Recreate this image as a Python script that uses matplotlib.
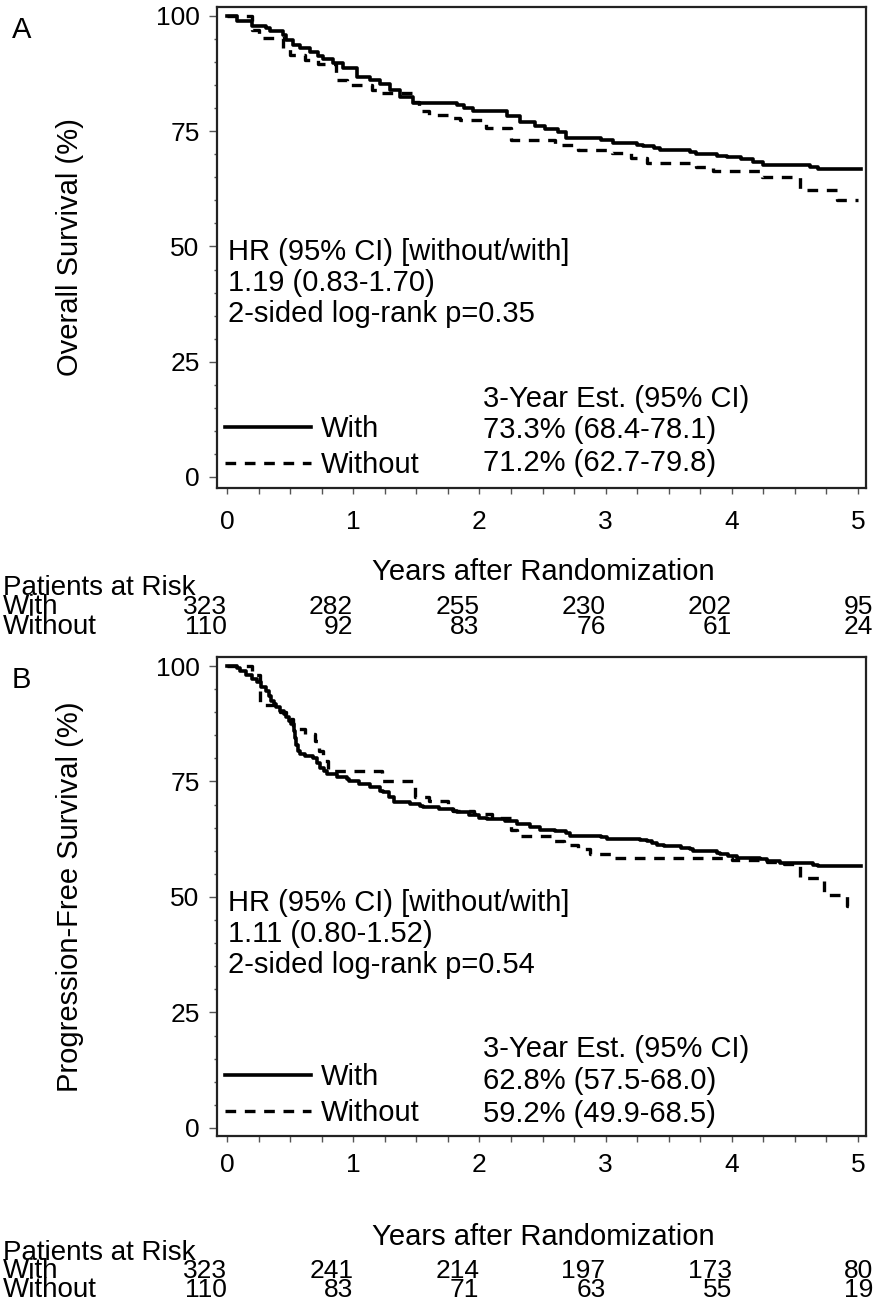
import matplotlib
matplotlib.use("Agg")
import matplotlib.pyplot as plt
from matplotlib.ticker import MultipleLocator
from matplotlib.transforms import blended_transform_factory

plt.rcParams['font.family'] = ['Liberation Sans', 'DejaVu Sans']

# ---------------- data ----------------
years = [0, 1, 2, 3, 4, 5]
yticks = [0, 25, 50, 75, 100]

os_with_t = [0, 0.08, 0.20, 0.31, 0.34, 0.44, 0.47, 0.52, 0.58, 0.66, 0.72, 0.76, 0.84, 0.92, 1.03,
             1.13, 1.21, 1.29, 1.37, 1.47, 1.82, 1.88, 1.95, 2.22, 2.32, 2.44, 2.52, 2.62, 2.69, 2.96,
             3.06, 3.25, 3.30, 3.38, 3.43, 3.67, 3.72, 3.88, 3.96, 4.07, 4.17, 4.25, 4.62, 4.68, 5.02]
os_with_s = [100, 99.0, 97.9, 97.4, 96.7, 95.8, 94.8, 93.8, 93.0, 92.2, 91.4, 90.6, 89.8, 88.7, 86.8,
             86.2, 85.3, 84.0, 82.4, 81.1, 80.6, 80.1, 79.3, 78.4, 77.1, 76.2, 75.4, 74.8, 73.5, 73.1,
             72.5, 72.1, 71.7, 71.3, 70.9, 70.5, 70.1, 69.7, 69.3, 69.0, 68.4, 67.7, 67.3, 66.8, 66.8]

os_wo_t = [0, 0.20, 0.25, 0.44, 0.50, 0.62, 0.72, 0.86, 0.95, 1.15, 1.20, 1.47, 1.52, 1.60, 1.75,
           1.85, 2.05, 2.25, 2.60, 2.78, 3.05, 3.20, 3.33, 3.72, 3.85, 4.24, 4.54, 4.83, 5.00]
os_wo_s = [100, 97.0, 95.2, 92.8, 91.5, 90.5, 89.5, 86.1, 85.0, 84.0, 83.2, 81.4, 79.3, 78.5, 77.8,
           77.4, 75.6, 73.1, 72.0, 71.0, 70.2, 69.1, 68.2, 67.2, 66.4, 65.1, 62.3, 60.1, 60.1]

pfs_with_t = [0, 0.08, 0.10, 0.15, 0.20, 0.24, 0.27, 0.31, 0.33, 0.35, 0.37, 0.39, 0.42, 0.45, 0.47,
              0.49, 0.51, 0.53, 0.54, 0.55, 0.56, 0.58, 0.62, 0.68, 0.71, 0.74, 0.77, 0.79, 0.87, 0.95,
              0.97, 1.05, 1.13, 1.21, 1.24, 1.28, 1.32, 1.45, 1.53, 1.55, 1.68, 1.79, 1.82, 1.92, 2.00,
              2.06, 2.20, 2.30, 2.40, 2.48, 2.60, 2.69, 2.72, 2.96, 3.01, 3.27, 3.33, 3.37, 3.41, 3.46,
              3.60, 3.67, 3.69, 3.88, 3.91, 3.97, 4.04, 4.22, 4.28, 4.38, 4.41, 4.64, 4.68, 5.02]
pfs_with_s = [100, 99.6, 99.0, 98.0, 97.2, 96.5, 95.4, 94.6, 93.5, 92.5, 91.8, 91.1, 90.3, 89.6, 88.9,
              88.0, 87.4, 86.0, 84.5, 83.0, 81.6, 81.0, 80.5, 80.0, 79.0, 78.0, 77.2, 76.6, 76.0, 75.5,
              75.1, 74.5, 73.8, 73.0, 72.7, 71.6, 70.5, 70.1, 69.7, 69.4, 69.0, 68.6, 68.3, 67.8, 67.2,
              66.8, 66.5, 65.8, 65.2, 64.6, 64.2, 63.9, 63.2, 63.0, 62.6, 62.3, 62.1, 61.6, 61.2, 61.0,
              60.6, 60.3, 59.9, 59.6, 59.2, 58.9, 58.5, 58.3, 57.8, 57.4, 57.3, 57.0, 56.8, 56.8]

pfs_wo_t = [0, 0.20, 0.26, 0.42, 0.47, 0.52, 0.62, 0.70, 0.73, 0.76, 0.80, 1.23, 1.49, 1.60, 1.75,
            1.79, 1.96, 2.10, 2.25, 2.30, 2.57, 2.67, 2.78, 2.88, 3.04, 4.00, 4.28, 4.41, 4.54, 4.73,
            4.91, 4.97]
pfs_wo_s = [100, 98.0, 91.5, 90.0, 88.5, 86.3, 85.2, 83.7, 81.6, 79.4, 77.2, 75.1, 71.6, 70.7, 69.4,
            68.7, 67.9, 67.0, 64.5, 63.1, 62.1, 61.2, 60.3, 59.2, 58.4, 58.0, 57.6, 57.2, 54.1, 50.5,
            48.0, 48.0]

risk_os_with = [323, 282, 255, 230, 202, 95]
risk_os_wo = [110, 92, 83, 76, 61, 24]
risk_pfs_with = [323, 241, 214, 197, 173, 80]
risk_pfs_wo = [110, 83, 71, 63, 55, 19]

group_labels = ["With", "Without"]
est_header = "3-Year Est. (95% CI)"
os_est = ["73.3% (68.4-78.1)", "71.2% (62.7-79.8)"]
pfs_est = ["62.8% (57.5-68.0)", "59.2% (49.9-68.5)"]
os_hr = ["HR (95% CI) [without/with]", "1.19 (0.83-1.70)", "2-sided log-rank p=0.35"]
pfs_hr = ["HR (95% CI) [without/with]", "1.11 (0.80-1.52)", "2-sided log-rank p=0.54"]

# ---------------- figure ----------------
W, H = 876, 1300
fig = plt.figure(figsize=(W / 100, H / 100), dpi=100)

TXT = 21
TICK = 19
RISK = 20
NUM = 19


def fy(py):
    return 1 - py / H


def make_panel(rect, tw, sw, two, swo, ylabel, hr, est, ylim, xpad):
    ax = fig.add_axes(rect)
    l1, = ax.step(tw, sw, where='post', color='black', lw=2.6, label=group_labels[0])
    l2, = ax.step(two, swo, where='post', color='black', lw=2.4, dashes=(3.2, 2.6),
                  label=group_labels[1])
    ax.set_xlim(-0.079, 5.063)
    ax.set_ylim(*ylim)
    ax.set_xticks(years)
    ax.set_yticks(yticks)
    ax.xaxis.set_minor_locator(MultipleLocator(0.25))
    ax.yaxis.set_minor_locator(MultipleLocator(5))
    ax.tick_params(axis='x', which='both', direction='out', length=4.5, width=1.0,
                   labelsize=TICK, pad=xpad, color='#555555')
    ax.tick_params(axis='y', which='major', direction='out', length=5.5, width=1.0,
                   labelsize=TICK, pad=7, color='#555555')
    ax.tick_params(axis='y', which='minor', direction='out', length=2.5, width=1.0,
                   color='#555555')
    for sp in ax.spines.values():
        sp.set_linewidth(1.6)
        sp.set_color('#222222')
    ax.set_ylabel(ylabel, fontsize=TXT)
    ax.yaxis.set_label_coords(-0.205, 0.5)
    for i, line in enumerate(hr):
        ax.text(0.01, 48.7 - 6.7 * i, line, fontsize=TXT, ha='left', va='center')
    ax.text(2.03, 17.0, est_header, fontsize=TXT, ha='left', va='center')
    ax.text(2.03, 10.2, est[0], fontsize=TXT, ha='left', va='center')
    ax.text(2.03, 3.0, est[1], fontsize=TXT, ha='left', va='center')
    ax.legend(handles=[l1, l2], loc='lower left', bbox_to_anchor=(0.012, 0.019),
              frameon=False, fontsize=TXT, handlelength=2.95, handletextpad=0.35,
              labelspacing=0.26, borderpad=0, borderaxespad=0)
    return ax


axA = make_panel([217 / W, fy(488), 649 / W, 481 / H], os_with_t, os_with_s, os_wo_t, os_wo_s,
                 "Overall Survival (%)", os_hr, os_est, (-2.4, 101.95), 11)
axB = make_panel([217 / W, fy(1136), 649 / W, 479 / H], pfs_with_t, pfs_with_s, pfs_wo_t, pfs_wo_s,
                 "Progression-Free Survival (%)", pfs_hr, pfs_est, (-1.75, 101.95), 8)

fig.text(12 / W, fy(30), "A", fontsize=TXT, ha='left', va='center')
fig.text(12 / W, fy(680), "B", fontsize=TXT, ha='left', va='center')


def risk_table(ax, title_y, base_ys, with_vals, wo_vals):
    y_pat, y_with, y_wo = base_ys
    tr = blended_transform_factory(ax.transData, fig.transFigure)
    fig.text(543 / W, fy(title_y), "Years after Randomization", fontsize=TXT,
             ha='center', va='center')
    fig.text(3 / W, fy(y_pat), "Patients at Risk", fontsize=RISK, ha='left', va='baseline')
    fig.text(3 / W, fy(y_with), group_labels[0], fontsize=RISK, ha='left', va='baseline')
    fig.text(3 / W, fy(y_wo), group_labels[1], fontsize=RISK, ha='left', va='baseline')
    for i, yr in enumerate(years):
        xpos = yr if yr < 5 else 5.12
        ax.text(xpos, fy(y_with), str(with_vals[i]), transform=tr, fontsize=NUM,
                ha='right', va='baseline')
        ax.text(xpos, fy(y_wo), str(wo_vals[i]), transform=tr, fontsize=NUM,
                ha='right', va='baseline')


risk_table(axA, 572, (595, 614, 634), risk_os_with, risk_os_wo)
risk_table(axB, 1237, (1260, 1278, 1297), risk_pfs_with, risk_pfs_wo)

fig.savefig("out.png", dpi=100)
